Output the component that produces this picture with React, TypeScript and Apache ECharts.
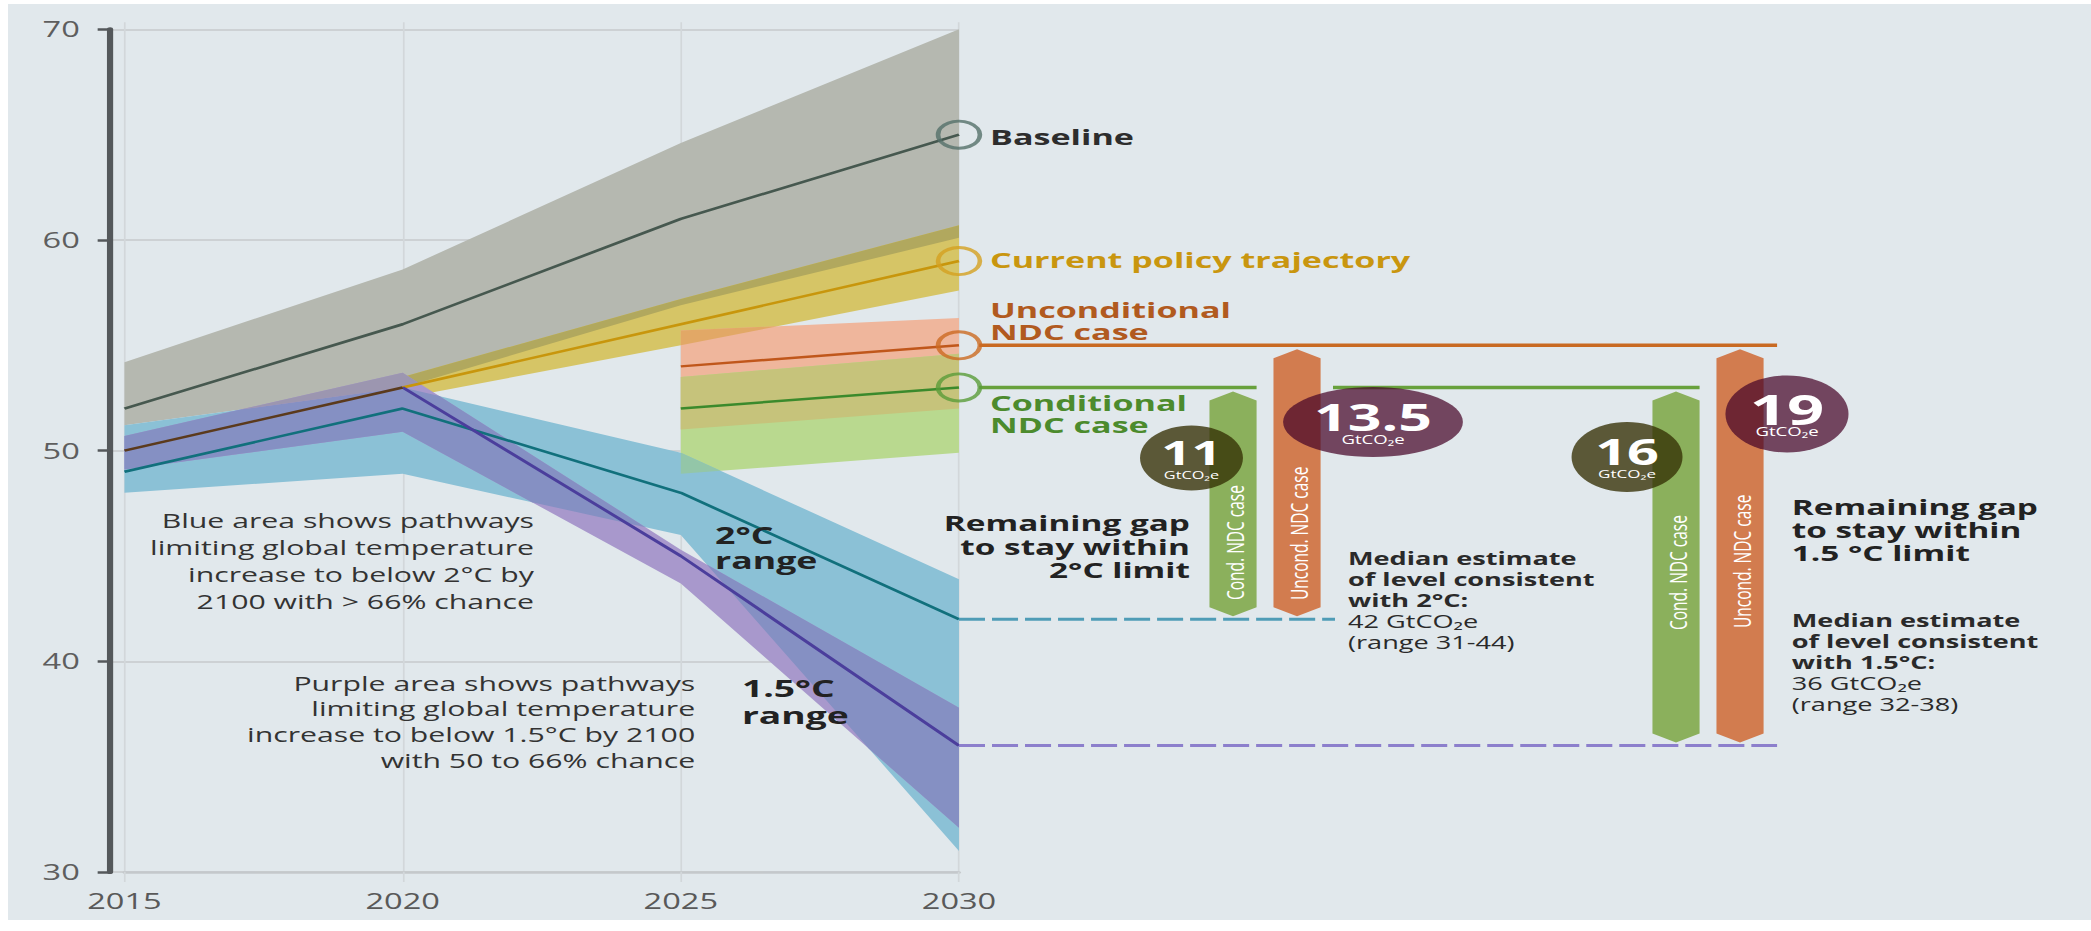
import React, { useEffect, useRef } from "react";
import * as echarts from "echarts";

// The reference graphic is a horizontally stretched infographic; the chart is drawn
// at a narrower width and stretched with CSS so texts, circles and strokes match.
const STRETCH = 1.55;
const PAGE_W = 2091;
const PAGE_H = 931;
const CHART_W = PAGE_W / STRETCH;
const FONT = '"Open Sans", "DejaVu Sans", sans-serif';

// ---------------- data ----------------
const years = [2015, 2020, 2025, 2030];
const xTickLabels = ["2015", "2020", "2025", "2030"];
const yTickValues = [30, 40, 50, 60, 70];
const yTickLabels = ["30", "40", "50", "60", "70"];

const historyYears = [2015, 2020];
const historyValues = [50, 53];

const baselineValues = [52, 56, 61, 65];
const baselineLow = [51.2, 53.0, 56.9, 60.1];
const baselineHigh = [54.2, 58.6, 64.6, 70.0];

const policyYears = [2020, 2025, 2030];
const policyValues = [53, 56, 59];
const policyLow = [52.5, 55.0, 57.6];
const policyHigh = [53.5, 57.2, 60.7];

const ndcYears = [2025, 2030];
const uncondValues = [54, 55];
const uncondLow = [51.0, 52.0];
const uncondHigh = [55.7, 56.3];
const condValues = [52, 53];
const condLow = [48.9, 49.9];
const condHigh = [53.5, 54.6];

const twoDegValues = [49, 52, 48, 42];
const twoDegLow = [48.0, 48.9, 46.0, 31.0];
const twoDegHigh = [51.2, 53.0, 49.9, 43.9];

const onePointFiveYears = [2020, 2025, 2030];
const onePointFiveValues = [53, 45, 36];
const onePointFiveLow = [49.1, 50.9, 43.7, 32.1];
const onePointFiveHigh = [50.7, 53.7, 45.3, 37.8];

const gapLabels = ["11", "13.5", "16", "19"];
const gapUnit = "GtCO₂e";
const gapBarNames = ["Cond. NDC case", "Uncond. NDC case", "Cond. NDC case", "Uncond. NDC case"];

const trajectoryNames = ["Baseline", "Current policy trajectory", "Unconditional\nNDC case", "Conditional\nNDC case"];
const medianTwoDegBold = ["Median estimate", "of level consistent", "with 2°C:"];
const medianTwoDegNormal = ["42 GtCO₂e", "(range 31-44)"];
const medianOnePointFiveBold = ["Median estimate", "of level consistent", "with 1.5°C:"];
const medianOnePointFiveNormal = ["36 GtCO₂e", "(range 32-38)"];
const gapTitleTwoDeg = ["Remaining gap", "to stay within", "2°C limit"];
const gapTitleOnePointFive = ["Remaining gap", "to stay within", "1.5 °C limit"];
const rangeTwoDeg = ["2°C", "range"];
const rangeOnePointFive = ["1.5°C", "range"];
const blueNote = ["Blue area shows pathways", "limiting global temperature", "increase to below 2°C by", "2100 with > 66% chance"];
const purpleNote = ["Purple area shows pathways", "limiting global temperature", "increase to below 1.5°C by 2100", "with 50 to 66% chance"];

const last = (a: number[]) => a[a.length - 1];
const gapFrom = [last(condValues), last(uncondValues), last(condValues), last(uncondValues)];
const gapTo = [last(twoDegValues), last(twoDegValues), last(onePointFiveValues), last(onePointFiveValues)];

// ---------------- layout (local, un-stretched px) ----------------
const Y_TOP = 29.3;
const Y_BOTTOM = 872;
const GRID_H = Y_BOTTOM - Y_TOP;
const PX_PER_UNIT = GRID_H / 40;
const TOP_EXT = 7; // vertical gridlines poke above the 70 line
const FRAME_LEFT = 71;
const X2015 = 80.3;
const X2030 = 618.7;
const RIGHT_W = CHART_W - X2030;

const BAR_X = [176.8, 218.1, 462.6, 503.9];
const BAR_HALF = 15.2;
const BAR_LABEL_BOTTOM = [600, 600, 630, 628];
const BAR_COLORS = ["#8bb05c", "#d27c4f", "#8bb05c", "#d27c4f"];
const BUBBLES = [
  { dx: -26.8, dy: 70.6, rx: 33.2, ry: 32.5, font: 34, unit: 10.5, color: "rgba(52,47,4,0.78)" },
  { dx: 49, dy: 76.7, rx: 58, ry: 35, font: 38, unit: 12, color: "rgba(70,6,40,0.72)" },
  { dx: -31.6, dy: 69.6, rx: 35.8, ry: 35, font: 36, unit: 11, color: "rgba(52,47,4,0.78)" },
  { dx: 30.3, dy: 68.7, rx: 39.7, ry: 38.5, font: 42, unit: 12, color: "rgba(70,6,40,0.72)" },
];

const C = {
  bg: "#e1e8ec",
  grey: "#b5b8b0",
  yellow: "#d6c566",
  greyYellow: "#b1a85e",
  salmon: "#efb69c",
  green: "#b9d98f",
  khaki: "#c6c37b",
  yellowSalmon: "#e2a866",
  blue: "#8bc1d6",
  purple: "#a898cc",
  bluePurple: "#8590c3",
  blueGreen: "#93c6a8",
  greyPurple: "#9c96b0",
};

type Band = { xs: number[]; lo: number[]; hi: number[] };

function interp(xs: number[], ys: number[], x: number) {
  for (let i = 0; i < xs.length - 1; i++) {
    if (x >= xs[i] - 1e-9 && x <= xs[i + 1] + 1e-9) {
      const t = (x - xs[i]) / (xs[i + 1] - xs[i]);
      return ys[i] + t * (ys[i + 1] - ys[i]);
    }
  }
  return NaN;
}

function intersect(a: Band, b: Band): Band {
  const x0 = Math.max(a.xs[0], b.xs[0]);
  const x1 = Math.min(last(a.xs), last(b.xs));
  if (x1 <= x0) return { xs: [], lo: [], hi: [] };
  const alo = (x: number) => interp(a.xs, a.lo, x);
  const ahi = (x: number) => interp(a.xs, a.hi, x);
  const blo = (x: number) => interp(b.xs, b.lo, x);
  const bhi = (x: number) => interp(b.xs, b.hi, x);
  let pts = Array.from(new Set([...a.xs, ...b.xs].filter((x) => x >= x0 && x <= x1))).sort((p, q) => p - q);
  const pairs: [(x: number) => number, (x: number) => number][] = [
    [alo, blo],
    [ahi, bhi],
    [alo, bhi],
    [blo, ahi],
  ];
  const extra: number[] = [];
  for (let i = 0; i < pts.length - 1; i++) {
    const p = pts[i];
    const q = pts[i + 1];
    for (const [f, g] of pairs) {
      const dp = f(p) - g(p);
      const dq = f(q) - g(q);
      if (dp * dq < 0) extra.push(p + ((q - p) * dp) / (dp - dq));
    }
  }
  pts = [...pts, ...extra].sort((p, q) => p - q);
  const lo = pts.map((x) => Math.max(alo(x), blo(x)));
  const hi = pts.map((x, i) => Math.max(lo[i], Math.min(ahi(x), bhi(x))));
  return { xs: pts, lo, hi };
}

function bandSeries(band: Band, color: string) {
  const data = band.xs.map((x, i) => [x, band.lo[i], band.hi[i]]);
  return {
    type: "custom",
    xAxisIndex: 1,
    yAxisIndex: 1,
    z: 2,
    silent: true,
    data,
    encode: { x: 0, y: [1, 2] },
    renderItem: (params: any, api: any) => {
      if (params.dataIndex !== 0) return null;
      const upper = data.map((d) => api.coord([d[0], d[2]]));
      const lower = data.map((d) => api.coord([d[0], d[1]])).reverse();
      return { type: "polygon", shape: { points: upper.concat(lower) }, style: { fill: color } };
    },
  };
}

function lineSeries(xs: number[], ys: number[], color: string, width = 2.5, axis = 1, dash?: number[]) {
  return {
    type: "line",
    xAxisIndex: axis,
    yAxisIndex: axis,
    z: 3,
    silent: true,
    symbol: "none",
    data: xs.map((x, i) => [x, ys[i]]),
    lineStyle: { color, width, type: dash ? dash : "solid", cap: "butt" },
  };
}

function ringSeries(value: number, color: string) {
  return {
    type: "scatter",
    xAxisIndex: 1,
    yAxisIndex: 1,
    z: 5,
    silent: true,
    symbol: "circle",
    symbolSize: 27,
    data: [[2030, value]],
    itemStyle: { color: "rgba(0,0,0,0)", borderColor: color, borderWidth: 3 },
  };
}

function block(
  x: number,
  yCenter: number,
  lines: string[],
  size: number,
  lineHeight: number,
  fill: string,
  weight: any = "normal",
  align = "left"
) {
  return {
    type: "text",
    x,
    y: yCenter,
    z: 30,
    silent: true,
    style: {
      text: lines.join("\n"),
      fill,
      fontSize: size,
      fontWeight: weight,
      fontFamily: FONT,
      lineHeight,
      textAlign: align,
      textVerticalAlign: "middle",
      align,
      verticalAlign: "middle",
    },
  };
}

function mixedBlock(x: number, yCenter: number, boldLines: string[], normalLines: string[], size: number, lineHeight: number) {
  const text = [...boldLines.map((l) => `{b|${l}}`), ...normalLines.map((l) => `{r|${l}}`)].join("\n");
  return {
    type: "text",
    x,
    y: yCenter,
    z: 30,
    silent: true,
    style: {
      text,
      fill: "#2a2a2a",
      fontSize: size,
      fontFamily: FONT,
      lineHeight,
      textAlign: "left",
      textVerticalAlign: "middle",
      align: "left",
      verticalAlign: "middle",
      rich: {
        b: { fontSize: size, fontWeight: "bold", fontFamily: FONT, lineHeight, fill: "#2a2a2a" },
        r: { fontSize: size, fontWeight: "normal", fontFamily: FONT, lineHeight, fill: "#2a2a2a" },
      },
    },
  };
}

function buildOption() {
  const baselineBand: Band = { xs: years, lo: baselineLow, hi: baselineHigh };
  const policyBand: Band = { xs: policyYears, lo: policyLow, hi: policyHigh };
  const uncondBand: Band = { xs: ndcYears, lo: uncondLow, hi: uncondHigh };
  const condBand: Band = { xs: ndcYears, lo: condLow, hi: condHigh };
  const twoDegBand: Band = { xs: years, lo: twoDegLow, hi: twoDegHigh };
  const opfBand: Band = { xs: years, lo: onePointFiveLow, hi: onePointFiveHigh };

  const series: any[] = [
    bandSeries(baselineBand, C.grey),
    bandSeries(policyBand, C.yellow),
    bandSeries(intersect(baselineBand, policyBand), C.greyYellow),
    bandSeries(uncondBand, C.salmon),
    bandSeries(condBand, C.green),
    bandSeries(intersect(uncondBand, condBand), C.khaki),
    bandSeries(intersect(policyBand, uncondBand), C.yellowSalmon),
    bandSeries(twoDegBand, C.blue),
    bandSeries(intersect(twoDegBand, condBand), C.blueGreen),
    bandSeries(opfBand, C.purple),
    bandSeries(intersect(twoDegBand, opfBand), C.bluePurple),
    bandSeries(intersect(baselineBand, opfBand), C.greyPurple),

    lineSeries(years, baselineValues, "#46584f"),
    lineSeries(policyYears, policyValues, "#c8960c"),
    lineSeries(ndcYears, uncondValues, "#c0571b"),
    lineSeries(ndcYears, condValues, "#3b8a2c"),
    lineSeries(years, twoDegValues, "#11707c"),
    lineSeries(onePointFiveYears, onePointFiveValues, "#4b3e9c"),
    lineSeries(historyYears, historyValues, "#5b3a1c"),

    ringSeries(last(baselineValues), "#55706a"),
    ringSeries(last(policyValues), "#d4a020"),
    ringSeries(last(uncondValues), "#cc6a22"),
    ringSeries(last(condValues), "#5a9c3a"),

    // continuation lines to the right of 2030 (grid 2)
    lineSeries([13, 527.8], [last(uncondValues), last(uncondValues)], "#c96a22", 3.5, 2),
    lineSeries([13, BAR_X[0] + BAR_HALF], [last(condValues), last(condValues)], "#68a13c", 3.5, 2),
    lineSeries([241.3, BAR_X[2] + BAR_HALF], [last(condValues), last(condValues)], "#68a13c", 3.5, 2),
    lineSeries([0, 242.6], [last(twoDegValues), last(twoDegValues)], "#4f9cb6", 3, 2, [16.8, 4.5]),
    lineSeries([0, 527.8], [last(onePointFiveValues), last(onePointFiveValues)], "#8c7fcc", 3, 2, [16.8, 4.5]),

    {
      type: "custom",
      xAxisIndex: 2,
      yAxisIndex: 2,
      z: 6,
      silent: true,
      data: gapFrom.map((f, i) => [BAR_X[i], f, gapTo[i]]),
      encode: { x: 0, y: [1, 2] },
      renderItem: (params: any, api: any) => {
        const i = params.dataIndex;
        const top = api.coord([api.value(0), api.value(1)]);
        const bot = api.coord([api.value(0), api.value(2)]);
        const cx = top[0];
        const yT = top[1];
        const yB = bot[1];
        const hw = BAR_HALF;
        const pts = [
          [cx, yT + 4],
          [cx + hw, yT + 13],
          [cx + hw, yB - 12],
          [cx, yB - 3],
          [cx - hw, yB - 12],
          [cx - hw, yT + 13],
        ];
        const b = BUBBLES[i];
        const ecx = cx + b.dx;
        const ecy = yT + b.dy;
        return {
          type: "group",
          children: [
            { type: "polygon", shape: { points: pts }, style: { fill: BAR_COLORS[i] } },
            {
              type: "text",
              x: cx + 1,
              y: BAR_LABEL_BOTTOM[i],
              rotation: Math.PI / 2,
              style: {
                text: gapBarNames[i],
                fill: "#ffffff",
                fontSize: 15.5,
                fontFamily: FONT,
                textAlign: "left",
                textVerticalAlign: "middle",
                align: "left",
                verticalAlign: "middle",
              },
            },
            { type: "ellipse", shape: { cx: ecx, cy: ecy, rx: b.rx, ry: b.ry }, style: { fill: b.color } },
            {
              type: "text",
              x: ecx,
              y: ecy,
              style: {
                text: `{n|${gapLabels[i]}}\n{u|${gapUnit}}`,
                fill: "#ffffff",
                fontFamily: FONT,
                textAlign: "center",
                textVerticalAlign: "middle",
                align: "center",
                verticalAlign: "middle",
                rich: {
                  n: { fontSize: b.font, fontWeight: "bold", fontFamily: FONT, lineHeight: 34, fill: "#ffffff", align: "center" },
                  u: { fontSize: b.unit, fontFamily: FONT, lineHeight: 12, fill: "#ffffff", align: "center" },
                },
              },
            },
          ],
        };
      },
    },
  ];

  const graphics: any[] = [
    {
      type: "rect",
      z: -100,
      silent: true,
      shape: { x: 8 / STRETCH, y: 4, width: CHART_W, height: 916 },
      style: { fill: C.bg },
    },
    block(638.7, 136, [trajectoryNames[0]], 22, 26, "#2d2d2d", "bold"),
    block(638.7, 259, [trajectoryNames[1]], 22, 26, "#c9960f", "bold"),
    block(638.7, 320.5, trajectoryNames[2].split("\n"), 22, 22, "#b15a1f", "bold"),
    block(638.7, 413, trajectoryNames[3].split("\n"), 22, 22, "#4c8b2d", "bold"),
    block(461.3, 547.5, rangeTwoDeg, 23, 25, "#222222", "bold"),
    block(478.7, 701.5, rangeOnePointFive, 24, 27, "#222222", "bold"),
    block(767.7, 546.5, gapTitleTwoDeg, 21.5, 23.5, "#222222", "bold", "right"),
    block(1156, 530, gapTitleOnePointFive, 21.5, 23, "#222222", "bold"),
    mixedBlock(869.7, 600, medianTwoDegBold, medianTwoDegNormal, 17.5, 21),
    mixedBlock(1156, 662, medianOnePointFiveBold, medianOnePointFiveNormal, 17.5, 21),
    block(344.5, 560.5, blueNote, 19.5, 27, "#333333", "normal", "right"),
    block(448.5, 721.5, purpleNote, 19.5, 25.7, "#333333", "normal", "right"),
  ];

  return {
    animation: false,
    backgroundColor: "#ffffff",
    grid: [
      { left: FRAME_LEFT, top: Y_TOP, width: X2030 - FRAME_LEFT, height: GRID_H, outerBoundsMode: "none" },
      { left: X2015, top: Y_TOP - TOP_EXT, width: X2030 - X2015, height: GRID_H + TOP_EXT, outerBoundsMode: "none" },
      { left: X2030, top: Y_TOP, width: RIGHT_W, height: GRID_H, outerBoundsMode: "none" },
    ],
    xAxis: [
      { gridIndex: 0, type: "value", min: 0, max: 1, show: false },
      {
        gridIndex: 1,
        type: "value",
        min: 2015,
        max: 2030,
        interval: 5,
        axisLine: { show: true, lineStyle: { color: "#c4c8cb", width: 2.5 } },
        axisTick: { show: true, inside: false, length: 10, lineStyle: { color: "#d2d7da", width: 1.1 } },
        axisLabel: {
          fontSize: 21,
          color: "#595959",
          fontFamily: FONT,
          margin: 18,
          formatter: (v: number) => xTickLabels[years.indexOf(v)] ?? "",
        },
        splitLine: { show: true, lineStyle: { color: "#d2d7da", width: 1.1 } },
      },
      { gridIndex: 2, type: "value", min: 0, max: RIGHT_W, show: false },
    ],
    yAxis: [
      {
        gridIndex: 0,
        type: "value",
        min: 30,
        max: 70,
        interval: 10,
        offset: 4.5,
        axisLine: { show: true, lineStyle: { color: "#54585b", width: 4 } },
        axisTick: { show: true, inside: false, length: 8, lineStyle: { color: "#54585b", width: 2.5 } },
        axisLabel: {
          fontSize: 21,
          color: "#5e5e5e",
          fontFamily: FONT,
          margin: 15,
          formatter: (v: number) => yTickLabels[yTickValues.indexOf(v)] ?? "",
        },
        splitLine: { show: true, lineStyle: { color: "#c6cacd", width: 1.5 } },
      },
      { gridIndex: 1, type: "value", min: 30, max: 70 + TOP_EXT / PX_PER_UNIT, show: false },
      { gridIndex: 2, type: "value", min: 30, max: 70, show: false },
    ],
    graphic: { elements: graphics },
    series,
  };
}

export default function App() {
  const ref = useRef<HTMLDivElement>(null);
  useEffect(() => {
    if (!ref.current) return;
    const chart = echarts.init(ref.current, null, { renderer: "svg" });
    chart.setOption(buildOption() as any);
    return () => chart.dispose();
  }, []);
  return (
    <div
      style={{
        position: "fixed",
        left: 0,
        top: 0,
        width: PAGE_W,
        height: PAGE_H,
        background: "#ffffff",
        overflow: "hidden",
      }}
    >
      <div
        ref={ref}
        style={{
          width: CHART_W,
          height: PAGE_H,
          transform: `scaleX(${STRETCH})`,
          transformOrigin: "0 0",
        }}
      />
    </div>
  );
}
